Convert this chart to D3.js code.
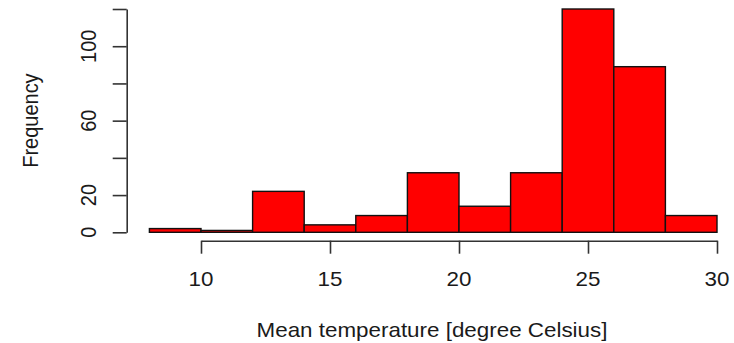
<!DOCTYPE html>
<html>
<head>
<meta charset="utf-8">
<script src="https://cdn.jsdelivr.net/npm/d3@7"></script>
<style>
  html, body { margin: 0; padding: 0; background: #fff; }
  text { font-family: "Liberation Sans", Arial, sans-serif; fill: #1a1a1a; }
</style>
</head>
<body>
<svg id="chart" width="734" height="343"></svg>
<script>
// histogram bins (2 degree wide) and their counts
const binStarts = [8, 10, 12, 14, 16, 18, 20, 22, 24, 26, 28]
const binWidth = 2
const counts = [2, 1, 22, 4, 9, 32, 14, 32, 120, 89, 9]
const xTicks = [10, 15, 20, 25, 30]
const yTicks = [0, 20, 40, 60, 80, 100, 120]
const yLabels = [0, 20, 60, 100]
const xTitle = 'Mean temperature [degree Celsius]'
const yTitle = 'Frequency'

const svg = d3.select('#chart')
const stretch = 1.12  // reference text is a bit wider than plain Arial

const x = d3.scaleLinear().domain([10, 30]).range([201, 717])
const y = d3.scaleLinear().domain([0, 120]).range([232.3, 9])

// bars
svg.append('g')
  .selectAll('rect')
  .data(binStarts.map((s, i) => ({ s, n: counts[i] })))
  .join('rect')
  .attr('x', d => x(d.s))
  .attr('y', d => y(d.n))
  .attr('width', d => x(d.s + binWidth) - x(d.s))
  .attr('height', d => y(0) - y(d.n))
  .attr('fill', '#ff0000')
  .attr('stroke', '#111')
  .attr('stroke-width', 1.4)

// x axis
const xAxisY = 240.7
const gx = svg.append('g')
  .attr('transform', `translate(0,${xAxisY})`)
  .call(d3.axisBottom(x).tickValues(xTicks).tickSize(13).tickSizeOuter(0).tickFormat(''))
gx.selectAll('path, line').attr('stroke', '#333').attr('stroke-width', 1.6)

svg.append('g')
  .selectAll('text')
  .data(xTicks)
  .join('text')
  .attr('transform', d => `translate(${x(d)},286) scale(${stretch},1)`)
  .attr('text-anchor', 'middle')
  .style('font-size', '20px')
  .text(d => d)

// y axis
const yAxisX = 126.7
const gy = svg.append('g')
  .attr('transform', `translate(${yAxisX},0)`)
  .call(d3.axisLeft(y).tickValues(yTicks).tickSize(14).tickSizeOuter(0).tickFormat(''))
gy.selectAll('path, line').attr('stroke', '#333').attr('stroke-width', 1.6)

svg.append('g')
  .selectAll('text')
  .data(yLabels)
  .join('text')
  .attr('transform', d => `translate(96,${y(d)}) scale(${stretch},1) rotate(-90)`)
  .attr('text-anchor', 'middle')
  .style('font-size', '20px')
  .text(d => d)

// axis titles
svg.append('text')
  .attr('transform', `translate(432,337) scale(${stretch},1)`)
  .attr('text-anchor', 'middle')
  .style('font-size', '20px')
  .text(xTitle)

svg.append('text')
  .attr('transform', `translate(38,120.6) scale(${stretch},1) rotate(-90)`)
  .attr('text-anchor', 'middle')
  .style('font-size', '20px')
  .text(yTitle)
</script>
</body>
</html>
